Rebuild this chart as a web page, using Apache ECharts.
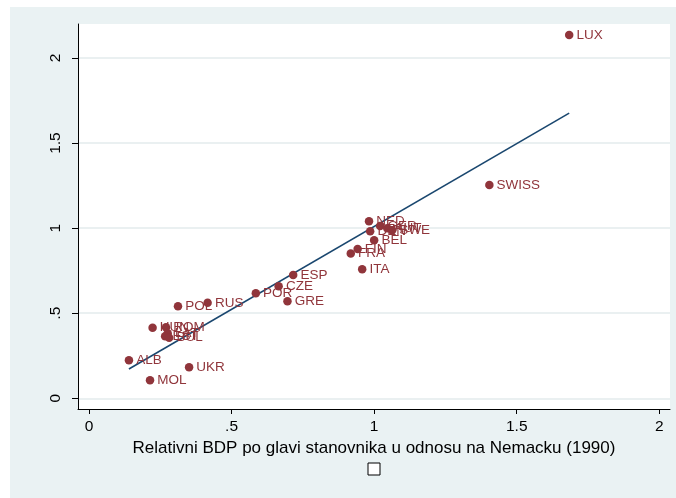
<!DOCTYPE html>
<html><head><meta charset="utf-8">
<script src="https://cdn.jsdelivr.net/npm/echarts@6/dist/echarts.min.js"></script>
<style>html,body{margin:0;padding:0;background:#fff}#c{width:676px;height:498px}</style>
</head><body><div id="c"></div>
<script>
const countries = ['LUX','SWISS','NED','GER','AUT','DEN','SWE','BEL','FIN','FRA','ITA','ESP','CZE','POR','GRE','RUS','POL','HUN','ROM','LAT','EST','BUL','ALB','UKR','MOL'];
const gdpX =      [1.684,1.404,0.982,1.021,1.046,0.986,1.063,1.000,0.942,0.918,0.958,0.716,0.665,0.585,0.696,0.416,0.312,0.223,0.270,0.276,0.267,0.281,0.140,0.351,0.214];
const valY =      [2.135,1.253,1.041,1.012,1.000,0.982,0.988,0.929,0.878,0.851,0.759,0.724,0.659,0.618,0.571,0.561,0.541,0.415,0.418,0.382,0.365,0.356,0.224,0.182,0.106];
const fitX = [0.140, 1.684];
const fitY = [0.172, 1.676];
const xTicks = [0, 0.5, 1, 1.5, 2];
const yTicks = [0, 0.5, 1, 1.5, 2];
const xTitle = 'Relativni BDP po glavi stanovnika u odnosu na Nemacku (1990)';

const fmt = v => { if (v === 0) return '0'; let s = String(v); return s.startsWith('0.') ? s.slice(1) : s; };
const font = '"Liberation Sans", Arial, sans-serif';
const maroon = '#90353b';

const chart = echarts.init(document.getElementById('c'), null, {renderer: 'canvas'});
chart.setOption({
  backgroundColor: '#ffffff',
  animation: false,
  graphic: [
    {type: 'rect', z: -100, silent: true, shape: {x: 10, y: 7, width: 666, height: 491}, style: {fill: '#eaf2f3'}},
    {type: 'rect', z: 100, silent: true, shape: {x: 368, y: 463, width: 12, height: 12}, style: {fill: '#ffffff', stroke: '#000', lineWidth: 1}}
  ],
  grid: {left: 78, top: 24, width: 592, height: 385, show: true, backgroundColor: '#ffffff', borderWidth: 0},
  xAxis: {
    type: 'value', min: -0.0386, max: 2.0375,
    axisLine: {show: true, onZero: false, lineStyle: {color: '#000', width: 1}},
    axisTick: {show: true, length: 5, customValues: xTicks, lineStyle: {color: '#000'}},
    axisLabel: {customValues: xTicks, formatter: fmt, color: '#000', fontFamily: font, fontSize: 15.5, margin: 10, showMinLabel: true, showMaxLabel: true},
    splitLine: {show: false},
    name: xTitle, nameLocation: 'middle', nameGap: 31,
    nameTextStyle: {color: '#000', fontFamily: font, fontSize: 17}
  },
  yAxis: {
    type: 'value', min: -0.063, max: 2.2,
    axisLine: {show: true, onZero: false, lineStyle: {color: '#000', width: 1}},
    axisTick: {show: true, length: 6, customValues: yTicks, lineStyle: {color: '#000'}},
    axisLabel: {customValues: yTicks, formatter: fmt, color: '#000', fontFamily: font, fontSize: 15.5, rotate: 90, margin: 14},
    splitLine: {show: true, lineStyle: {color: '#e3ebed', width: 1.5}}
  },
  series: [
    {
      type: 'line', data: fitX.map((x, i) => [x, fitY[i]]), showSymbol: false, symbol: 'none',
      lineStyle: {color: '#1a476f', width: 1.6}, z: 2, silent: true
    },
    {
      type: 'scatter', data: gdpX.map((x, i) => ({value: [x, valY[i]], name: countries[i]})),
      symbolSize: 8.5, itemStyle: {color: maroon, opacity: 1}, z: 3,
      label: {show: true, position: 'right', distance: 3, formatter: p => p.name, color: maroon, fontFamily: font, fontSize: 13.5}
    }
  ]
});
</script></body></html>
